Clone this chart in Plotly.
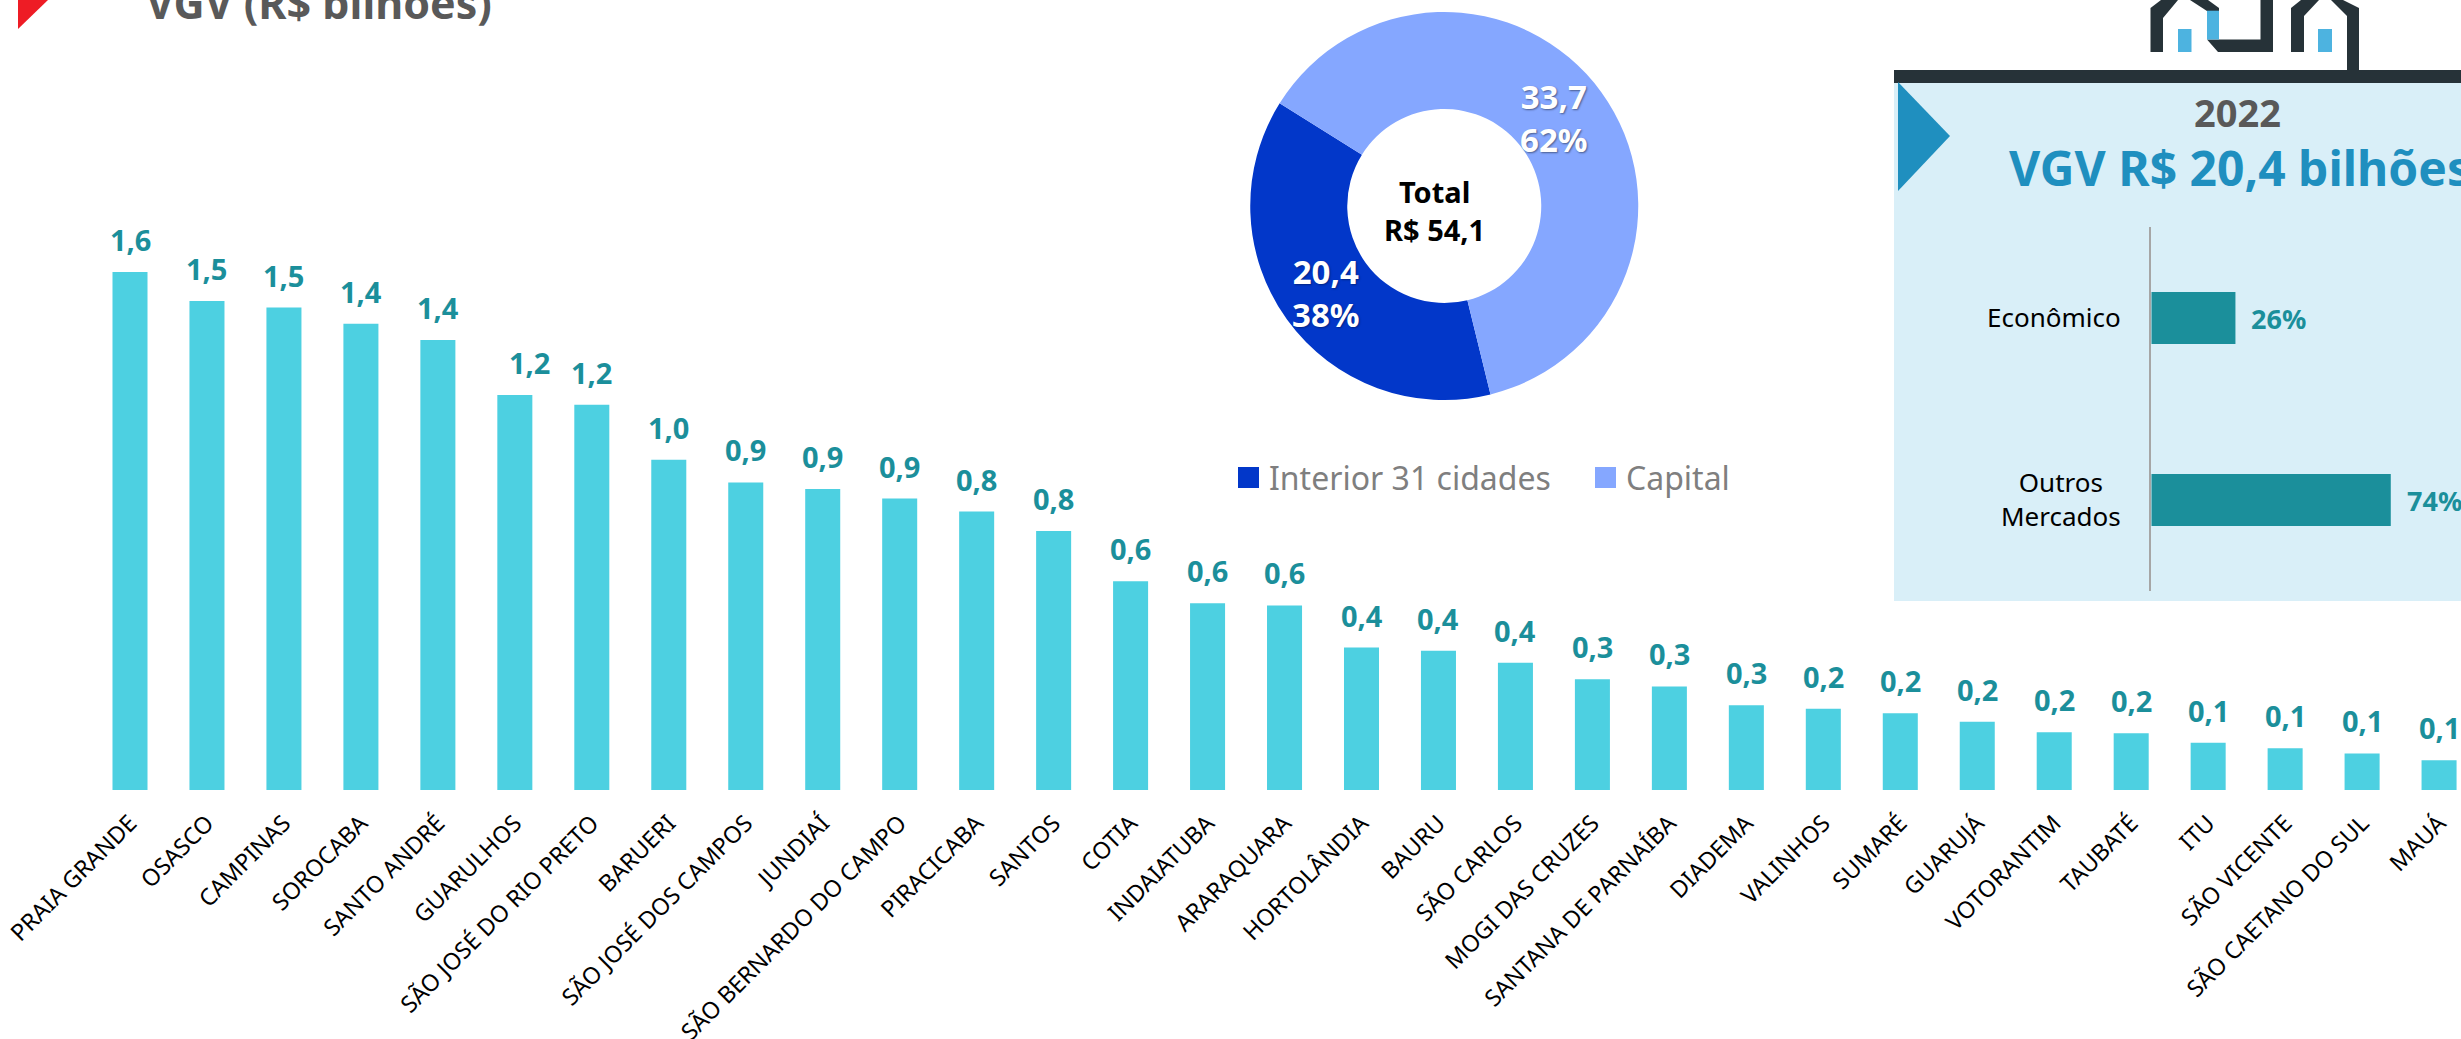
import plotly.graph_objects as go

W = 2461
H = 1039

cities = ["PRAIA GRANDE", "OSASCO", "CAMPINAS", "SOROCABA", "SANTO ANDRÉ", "GUARULHOS",
          "SÃO JOSÉ DO RIO PRETO", "BARUERI", "SÃO JOSÉ DOS CAMPOS", "JUNDIAÍ",
          "SÃO BERNARDO DO CAMPO", "PIRACICABA", "SANTOS", "COTIA", "INDAIATUBA",
          "ARARAQUARA", "HORTOLÂNDIA", "BAURU", "SÃO CARLOS", "MOGI DAS CRUZES",
          "SANTANA DE PARNAÍBA", "DIADEMA", "VALINHOS", "SUMARÉ", "GUARUJÁ", "VOTORANTIM",
          "TAUBATÉ", "ITU", "SÃO VICENTE", "SÃO CAETANO DO SUL", "MAUÁ"]
vgv = [1.60, 1.51, 1.49, 1.44, 1.39, 1.22, 1.19, 1.02, 0.95, 0.93, 0.90, 0.86, 0.80, 0.645,
       0.577, 0.57, 0.44, 0.43, 0.393, 0.342, 0.32, 0.262, 0.251, 0.237, 0.211, 0.178, 0.175,
       0.146, 0.129, 0.113, 0.092]
vgv_labels = ["1,6", "1,5", "1,5", "1,4", "1,4", "1,2", "1,2", "1,0", "0,9", "0,9", "0,9", "0,8",
              "0,8", "0,6", "0,6", "0,6", "0,4", "0,4", "0,4", "0,3", "0,3", "0,3", "0,2", "0,2",
              "0,2", "0,2", "0,2", "0,1", "0,1", "0,1", "0,1"]

regions = ["Interior 31 cidades", "Capital"]
region_vgv = [20.4, 33.7]
region_labels = ["20,4<br>38%", "33,7<br>62%"]

segments = ["Econômico", "Outros<br>Mercados"]
segment_share = [26, 74]
segment_labels = ["26%", "74%"]

FONT = "Noto Sans"
TEAL = "#1B8F9B"
GREY = "#595959"
BLUE = "#1F8FBF"
DARK = "#263238"
region_colors = ["#0237C9", "#85A7FF"]


# the page is laid out in pixels, paper coords are easier to get this way
def px(x):
    return x / W


def py(y):
    return 1 - y / H


def poly(points):
    return "M" + " L".join(f"{px(x)},{py(y)}" for x, y in points) + " Z"


def solid(points, color, layer="above"):
    return dict(type="path", xref="paper", yref="paper", path=poly(points),
                fillcolor=color, line=dict(width=0), layer=layer)


def box(x0, y0, x1, y1, color, layer="below"):
    return dict(type="rect", xref="paper", yref="paper", x0=px(x0), x1=px(x1), y0=py(y0), y1=py(y1),
                fillcolor=color, line=dict(width=0), layer=layer)


def note(x, y, text, size, color, bold=False, xanchor="center", align="center", shadow=None):
    font = dict(family=FONT, size=size, color=color)
    if shadow:
        font["shadow"] = shadow
    return dict(xref="paper", yref="paper", x=px(x), y=py(y), text=f"<b>{text}</b>" if bold else text,
                showarrow=False, xanchor=xanchor, yanchor="middle", align=align, font=font)


fig = go.Figure()

fig.add_trace(go.Bar(x=cities, y=vgv, width=0.455, marker=dict(color="#4DD0E1", line=dict(width=0)),
                     showlegend=False, xaxis="x", yaxis="y"))

fig.add_trace(go.Pie(labels=regions, values=region_vgv, textinfo="none", hole=0.5, sort=False,
                     direction="clockwise", rotation=166.2, showlegend=False,
                     marker=dict(colors=region_colors, line=dict(width=0)),
                     domain=dict(x=[px(1250), px(1638.5)], y=[py(400), py(12)])))

fig.add_trace(go.Bar(y=segments, x=segment_share, orientation="h", width=0.287,
                     marker=dict(color=TEAL, line=dict(width=0)), showlegend=False,
                     xaxis="x2", yaxis="y2"))

annotations = []

for i, city in enumerate(cities):
    annotations.append(dict(x=city, y=vgv[i], xref="x", yref="y", text=f"<b>{vgv_labels[i]}</b>",
                            showarrow=False, yanchor="bottom", yshift=11,
                            xshift=15 if city == "GUARULHOS" else 0,
                            font=dict(family=FONT, size=29, color=TEAL)))

for i, seg in enumerate(segments):
    annotations.append(dict(x=segment_share[i], y=seg, xref="x2", yref="y2", text=f"<b>{segment_labels[i]}</b>",
                            showarrow=False, xanchor="left", xshift=14,
                            font=dict(family=FONT, size=27, color=TEAL)))
    annotations.append(note(2122.5, 317 + 182 * i, seg, 26, "black", xanchor="right"))

annotations += [
    note(144, 3, "VGV (R$ bilhões)", 43, GREY, bold=True, xanchor="left"),
    note(1434, 210, "Total<br>R$ 54,1", 29, "black", bold=True),
    note(1326, 293, region_labels[0], 33, "white", bold=True, shadow="1px 1px 2px rgba(0,0,0,0.35)"),
    note(1554, 118, region_labels[1], 33, "white", bold=True, shadow="1px 1px 2px rgba(0,0,0,0.45)"),
    note(1267, 477, regions[0], 32, "#7F7F7F", xanchor="left"),
    note(1624, 477, regions[1], 32, "#7F7F7F", xanchor="left"),
    note(2237, 112, "2022", 38, GREY, bold=True),
    note(2007, 168, "VGV R$ 20,4 bilhões", 48, BLUE, bold=True, xanchor="left"),
]

shapes = [
    # panel behind the small bars
    box(1894, 83, W, 601, "#D9EFF8"),
    box(1894, 70, W, 83, DARK),
    solid([(1898, 82), (1950, 136), (1898, 191)], BLUE),
    solid([(18, 0), (48, 0), (18, 29)], "#EE1C25"),
    # house logo
    solid([(2150.5, 52), (2150.5, 8), (2161, 0), (2178, 0), (2163, 18), (2163, 52)], DARK),
    solid([(2190, 0), (2207, 11), (2219, 11), (2219, 8), (2208, 0)], DARK),
    solid([(2207, 39.5), (2218, 52), (2273, 52), (2273, 0), (2260.5, 0), (2260.5, 39.5)], DARK),
    solid([(2291, 52), (2291, 8), (2301, 0), (2319, 0), (2304, 16), (2304, 52)], DARK),
    solid([(2331, 0), (2347, 16), (2347, 70), (2359, 70), (2359, 8), (2343, 0)], DARK),
    box(2178, 29, 2191.5, 52, "#4DB3E0", "above"),
    box(2207, 10.7, 2219, 39.5, "#4DB3E0", "above"),
    box(2318, 29, 2332, 52, "#4DB3E0", "above"),
    # legend swatches
    box(1238, 467, 1259, 488, region_colors[0], "above"),
    box(1595, 467, 1616, 488, region_colors[1], "above"),
]

fig.update_layout(
    width=W,
    height=H,
    margin=dict(l=0, r=0, t=0, b=0),
    paper_bgcolor="white",
    plot_bgcolor="rgba(0,0,0,0)",
    font=dict(family=FONT),
    hovermode=False,
    shapes=shapes,
    annotations=annotations,
    xaxis=dict(domain=[0, 1], range=[-1.689, 30.285], type="category", categoryorder="array",
               categoryarray=cities, tickangle=-45, showgrid=False, zeroline=False, showline=False,
               ticks="", ticklabelstandoff=14, tickfont=dict(family=FONT, size=23.3, color="black"),
               tickmode="array", tickvals=cities, automargin=False),
    yaxis=dict(domain=[py(790), 1], range=[0, 2.44], visible=False, automargin=False),
    xaxis2=dict(domain=[px(2151.3), 1], range=[0, 95.7], visible=False, anchor="y2", automargin=False),
    yaxis2=dict(domain=[py(591), py(227)], range=[1.5, -0.5], type="category", anchor="x2",
                showticklabels=False, ticks="", showgrid=False, zeroline=False, showline=True,
                linecolor="#A6A6A6", linewidth=2, automargin=False),
)

# browsers put an 8px margin on the body, that would push everything off
fig.write_html("out.html", config={"displayModeBar": False},
               post_script="document.body.style.margin='0';document.documentElement.style.overflow='hidden';")
